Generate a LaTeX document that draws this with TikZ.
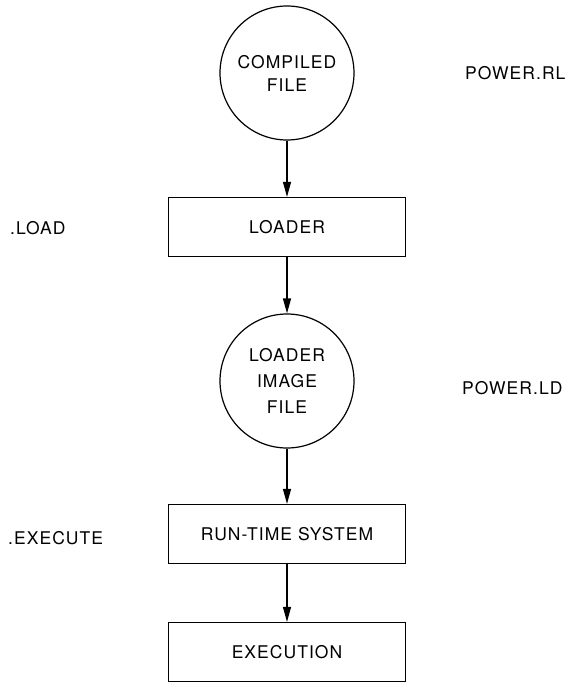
\documentclass[tikz,border=0pt]{standalone}
\usepackage{fontspec}
\setmainfont{TeX Gyre Heros}[LetterSpace=6]
\usetikzlibrary{arrows.meta}
\begin{document}
\begin{tikzpicture}[x=1pt,y=-1pt,
  every node/.style={font=\fontsize{17.5}{22}\selectfont},
  filenode/.style={draw,circle,line width=1.2pt,minimum size=134pt,inner sep=0pt,align=center},
  procbox/.style={draw,rectangle,line width=1.2pt,minimum width=237pt,minimum height=59pt,inner sep=0pt},
  lbl/.style={anchor=west,inner sep=0pt},
  flow/.style={line width=1.2pt,-{Triangle[length=15pt,width=8pt]}}]
\useasboundingbox (0,0) rectangle (572,685);
\node[filenode] (c1) at (287,73) {COMPILED\\[1pt]FILE};
\node[procbox] (b1) at (287,227) {LOADER};
\node[filenode,font=\fontsize{17.5}{26}\selectfont] (c2) at (287,381) {LOADER\\IMAGE\\FILE};
\node[procbox] (b2) at (287,534) {RUN-TIME SYSTEM};
\node[procbox] (b3) at (287,652) {EXECUTION};
\node[lbl] (l1) at (465,73) {POWER.RL};
\node[lbl] (l2) at (10,228) {.LOAD};
\node[lbl] (l3) at (462,388) {POWER.LD};
\node[lbl] (l4) at (8,538) {.EXECUTE};
\draw[flow] (c1) -- (b1);
\draw[flow] (b1) -- (c2);
\draw[flow] (c2) -- (b2);
\draw[flow] (b2) -- (b3);
\end{tikzpicture}
\end{document}
